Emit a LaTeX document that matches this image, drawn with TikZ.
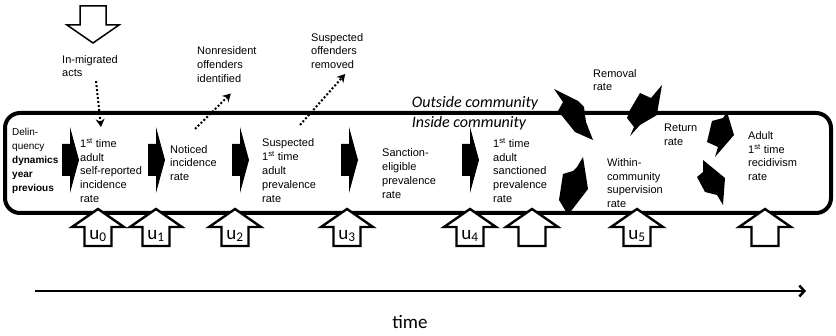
\documentclass[tikz,border=0pt]{standalone}
\usepackage{fontspec}
\setmainfont{Liberation Sans}
\newfontfamily\calib{Carlito}
\usetikzlibrary{arrows.meta}

\begin{document}
\begin{tikzpicture}[
    x=1pt, y=-1pt,
    lbl/.style={anchor=west, align=left, inner sep=0pt, font=\fontsize{11}{13.8}\selectfont},
    zone/.style={inner sep=0pt, anchor=base, font=\calib\itshape\fontsize{16}{16}\selectfont},
    dotarrow/.style={line width=2pt, dash pattern=on 2pt off 2pt, -{Stealth[length=8pt,width=9pt]}},
    openarrow/.style={draw, line width=2.4pt, fill=white, line join=miter},
    ulbl/.style={inner sep=0pt, font=\calib\fontsize{19}{19}\selectfont}
]
    \useasboundingbox (0,0) rectangle (836,336);

    % Community box with the two zone labels
    \draw[line width=4pt, rounded corners=15pt] (5,113) rectangle (831,213);
    \node[zone] (outside) at (475,108) {Outside community};
    \node[zone] (inside) at (469,127.5) {Inside community};

    % Rates inside the community
    \node[lbl, font=\fontsize{10}{13.8}\selectfont] (delin) at (12,161) {Delin-\\quency\\\textbf{dynamics}\\\textbf{year}\\\textbf{previous}};
    \node[lbl] (selfrep) at (80,170.5) {1\textsuperscript{st} time\\adult\\self-reported\\incidence\\rate};
    \node[lbl] (noticed) at (170,163) {Noticed\\incidence\\rate};
    \node[lbl] (suspect) at (262,170.5) {Suspected\\1\textsuperscript{st} time\\adult\\prevalence\\rate};
    \node[lbl] (eligible) at (382,173.5) {Sanction-\\eligible\\prevalence\\rate};
    \node[lbl] (sanction) at (493,170.5) {1\textsuperscript{st} time\\adult\\sanctioned\\prevalence\\rate};
    \node[lbl] (within) at (607,183) {Within-\\community\\supervision\\rate};
    \node[lbl] (return) at (664,135) {Return\\rate};
    \node[lbl] (recid) at (748,156) {Adult\\1\textsuperscript{st} time\\recidivism\\rate};

    % Flows across the community border
    \node[lbl] (removal) at (593,80) {Removal\\rate};
    \node[lbl] (inmig) at (62,66) {In-migrated\\acts};
    \node[lbl] (nonres) at (197,64.5) {Nonresident\\offenders\\identified};
    \node[lbl] (suspoff) at (311,51) {Suspected\\offenders\\removed};

    % Black block arrows between the rates
    \foreach \x in {62,148,232,341,462}
        \fill (\x,144) rectangle (\x+8,176) (\x+8,127) -- (\x+17,160) -- (\x+8,193) -- cycle;

    % Curved removal / return arrows
    \fill (554,89) -- (578,101) -- (584,107) -- (586,122) -- (593,140) -- (575,132) -- (567,122) -- (558,111) -- (563,102) -- cycle;
    \fill (662,85) -- (658,108) -- (657,115) -- (640,125) -- (630,136) -- (634,127) -- (627,118) -- (630,110) -- (640,93) -- (651,98) -- cycle;
    \fill (583,157) -- (588,189) -- (568,215) -- (559,200) -- (563,174) -- (573,171) -- (577,167) -- cycle;
    \fill (727,112) -- (734,135) -- (715,157) -- (718,147) -- (707,142) -- (712,121) -- (723,118) -- cycle;
    \fill (703,160) -- (725,178) -- (723,205) -- (717,195) -- (705,192) -- (697,177) -- (703,172) -- cycle;

    % Dotted flows
    \coordinate (inmigtip) at (101,127);
    \coordinate (nonresfoot) at (195,129);
    \coordinate (suspfoot) at (300,125);
    \draw[dotarrow] ([xshift=6pt,yshift=-4pt]inmig.south) -- (inmigtip);
    \draw[dotarrow] (nonresfoot) -- ([xshift=4pt,yshift=-11pt]nonres.south);
    \draw[dotarrow] (suspfoot) -- ([xshift=8pt,yshift=-5pt]suspoff.south);

    % Open arrow of in-migrated acts
    \draw[line width=1.5pt, fill=white, line join=miter] (80,6) -- (106,6) -- (106,25) -- (119,25) -- (93,43) -- (67,25) -- (80,25) -- cycle;

    % Open input arrows u
    \foreach \x/\nm/\lab in {98/u0/u\textsubscript{0}, 156/u1/u\textsubscript{1}, 235/u2/u\textsubscript{2}, 347/u3/u\textsubscript{3}, 470/u4/u\textsubscript{4}, 532/ua/, 637/u5/u\textsubscript{5}, 765/ub/} {
        \draw[openarrow] (\x,209) -- (\x+26,227) -- (\x+13.5,227) -- (\x+13.5,246) -- (\x-13.5,246) -- (\x-13.5,227) -- (\x-26,227) -- cycle;
        \node[ulbl] (\nm) at (\x,236) {\lab};
    }

    % Time axis
    \coordinate (t0) at (35,291);
    \coordinate (t1) at (806,291);
    \draw[line width=2.5pt, -{Straight Barb[length=5pt,width=11pt]}] (t0) -- (t1);
    \node[font=\calib\fontsize{19}{19}\selectfont] (time) at (410,322) {time};
\end{tikzpicture}
\end{document}
